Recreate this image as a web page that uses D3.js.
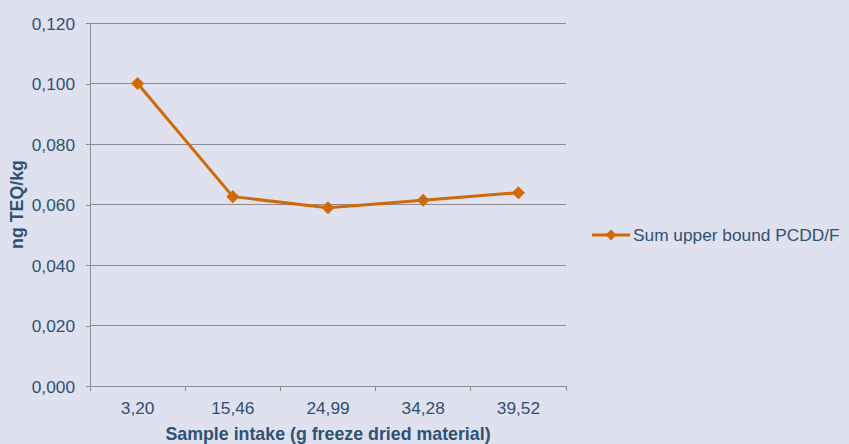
<!DOCTYPE html>
<html><head><meta charset="utf-8">
<script src="https://cdn.jsdelivr.net/npm/d3@7"></script>
<style>html,body{margin:0;padding:0;background:#dfe1ee;}svg{display:block;font-family:"Liberation Sans",Arial,sans-serif;}</style>
</head><body>
<svg id="c" width="849" height="444"></svg>
<script>
const categories = ["3,20","15,46","24,99","34,28","39,52"];
const values = [0.100,0.0626,0.0589,0.0614,0.0639];
const yTicks = [0,0.02,0.04,0.06,0.08,0.10,0.12];
const seriesName = "Sum upper bound PCDD/F";

const svg = d3.select("#c");
const m = {l:90,r:566,t:23,b:386};
const textColor = "#2d5275", gridColor = "#8c8c94", lineColor = "#d06a08";
const fs = 17.3;
const x = d3.scaleBand().domain(categories).range([m.l,m.r]);
const y = d3.scaleLinear().domain([0,0.12]).range([m.b,m.t]);
const fmt = d => d3.format(".3f")(d).replace(".",",");

// gridlines
svg.append("g").selectAll("line").data(yTicks.filter(d=>d>0)).join("line")
  .attr("x1",m.l).attr("x2",m.r).attr("y1",d=>y(d)).attr("y2",d=>y(d))
  .attr("stroke",gridColor).attr("stroke-width",1).attr("shape-rendering","crispEdges");

const ya = svg.append("g").attr("transform",`translate(${m.l},0)`)
  .call(d3.axisLeft(y).tickValues(yTicks).tickFormat(fmt).tickSize(4).tickSizeOuter(0));
ya.select(".domain").attr("stroke",gridColor).attr("shape-rendering","crispEdges");
ya.selectAll(".tick line").attr("stroke",gridColor).attr("shape-rendering","crispEdges");
ya.selectAll("text").attr("fill",textColor).attr("font-size",fs).attr("x",-15).attr("dy","0.35em");

const xa = svg.append("g").attr("transform",`translate(0,${m.b})`)
  .call(d3.axisBottom(x).tickSize(0).tickSizeOuter(0));
xa.select(".domain").attr("stroke",gridColor).attr("shape-rendering","crispEdges");
xa.selectAll(".tick text").attr("fill",textColor).attr("font-size",fs).attr("y",28).attr("dy","0");
// category boundary ticks
const bounds = categories.map(c=>x(c)).concat([m.r]);
svg.append("g").selectAll("line").data(bounds).join("line")
  .attr("x1",d=>d).attr("x2",d=>d).attr("y1",m.b).attr("y2",m.b+5)
  .attr("stroke",gridColor).attr("shape-rendering","crispEdges");

// line
const pts = categories.map((c,i)=>[x(c)+x.bandwidth()/2, y(values[i])]);
svg.append("path").attr("d",d3.line()(pts)).attr("fill","none")
  .attr("stroke",lineColor).attr("stroke-width",3).attr("stroke-linejoin","round");
svg.append("g").selectAll("path").data(pts).join("path")
  .attr("d",d3.symbol().type(d3.symbolSquare).size(85))
  .attr("transform",d=>`translate(${d[0]},${d[1]}) rotate(45)`).attr("fill",lineColor);

// axis titles
svg.append("text").attr("x",(m.l+m.r)/2).attr("y",440).attr("text-anchor","middle")
  .attr("font-weight","bold").attr("font-size",17.8).attr("fill",textColor)
  .text("Sample intake (g freeze dried material)");
svg.append("text").attr("transform",`translate(23,${(m.t+m.b)/2}) rotate(-90)`)
  .attr("text-anchor","middle").attr("font-weight","bold").attr("font-size",17.8).attr("fill",textColor)
  .text("ng TEQ/kg");

// legend
const lg = svg.append("g");
lg.append("line").attr("x1",592).attr("x2",630).attr("y1",235).attr("y2",235)
  .attr("stroke",lineColor).attr("stroke-width",3);
lg.append("path").attr("d",d3.symbol().type(d3.symbolSquare).size(60))
  .attr("transform","translate(611,235) rotate(45)").attr("fill",lineColor);
lg.append("text").attr("x",633).attr("y",235).attr("dy","0.35em").attr("font-size",fs)
  .attr("fill",textColor).text(seriesName);
</script>
</body></html>
